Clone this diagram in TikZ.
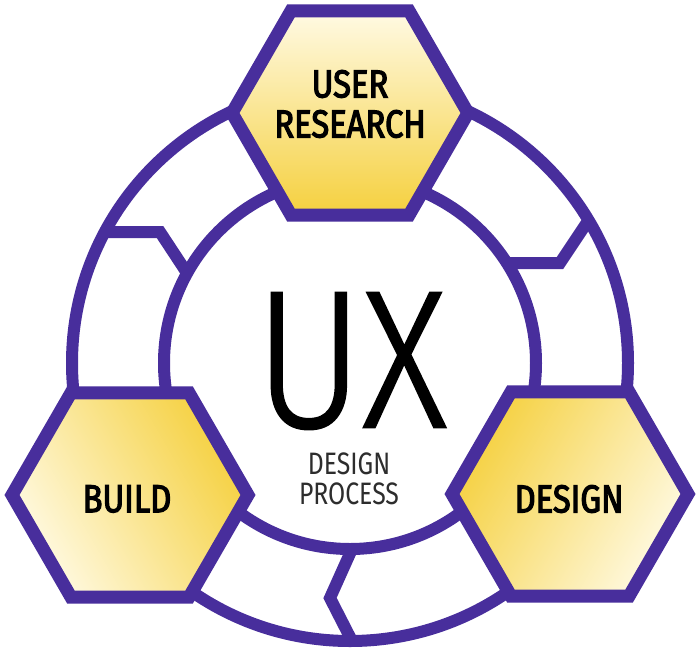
\documentclass[tikz,border=0pt]{standalone}
\usepackage{fontspec}
\setmainfont{Fira Sans}
\newfontfamily\labelfont[FakeStretch=0.84,FakeBold=3]{Fira Sans}
\newfontfamily\uxfont[FakeStretch=0.84,FakeBold=1.2]{Fira Sans Light}
\newfontfamily\subfont[FakeStretch=0.8]{Fira Sans}
\usetikzlibrary{shapes.geometric}
\definecolor{ringpurple}{RGB}{72,46,156}
\definecolor{hexgold}{RGB}{245,208,62}
\definecolor{hexcream}{RGB}{255,250,228}
\definecolor{subgray}{RGB}{45,45,45}
\begin{document}
\begin{tikzpicture}[x=1pt,y=-1pt,
    ring/.style={draw=ringpurple, line width=12pt},
    hexa/.style={regular polygon, regular polygon sides=6, minimum size=236pt,
      draw=ringpurple, line width=13pt, inner sep=0pt},
    hexlabel/.style={font=\labelfont\fontsize{39}{40}\selectfont,
      align=center, inner sep=0pt}]
    \useasboundingbox (0,0) rectangle (699,656);
    \fill[white] (0,0) rectangle (699,656);

    % Ring (outer and inner circle)
    \coordinate (c) at (350,363);
    \draw[ring] (c) circle[radius=278pt];
    \draw[ring] (c) circle[radius=186pt];

    % Splits in the ring
    \draw[ring] (505,263) -- (560,263) -- (590,218);
    \draw[ring] (102,232) -- (160,232) -- (187,273);
    \draw[ring] (352,549) -- (330,598) -- (352,641);

    % Hexagons (gold towards the centre)
    \node[hexa, top color=hexcream, bottom color=hexgold] (research) at (350,113) {};
    \node[hexa, top color=hexgold, bottom color=hexcream, shading angle=-60] (build) at (130,495) {};
    \node[hexa, top color=hexgold, bottom color=hexcream, shading angle=60] (design) at (570,494) {};

    % Labels
    \node[hexlabel] (researchtxt) at (350,104) {USER\\RESEARCH};
    \node[hexlabel] (buildtxt) at (127,499) {BUILD};
    \node[hexlabel] (designtxt) at (569,499) {DESIGN};

    % Centre text
    \node[font=\uxfont\fontsize{196}{200}\selectfont, inner sep=0pt,
      text depth=0pt] (ux) at (351,360) {UX};
    \node[font=\subfont\fontsize{31}{30}\selectfont, text=subgray, align=center,
      inner sep=0pt] (sub) at (349,479) {DESIGN\\PROCESS};
\end{tikzpicture}
\end{document}
